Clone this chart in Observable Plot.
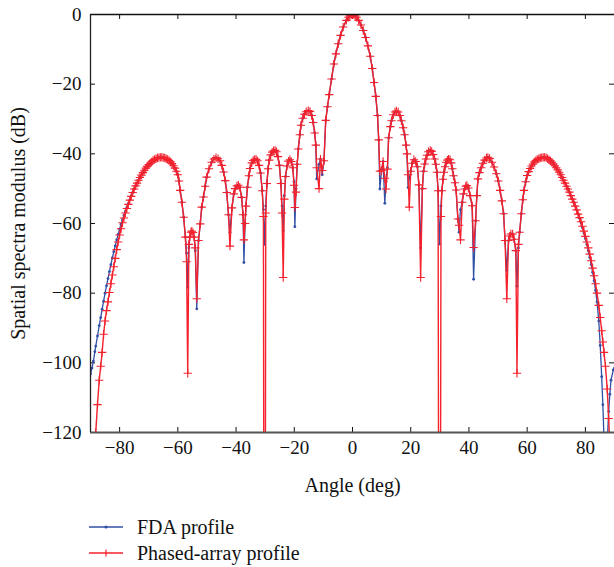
<!DOCTYPE html>
<html>
<head>
<meta charset="utf-8">
<script src="https://cdn.jsdelivr.net/npm/d3@7"></script>
<script src="https://cdn.jsdelivr.net/npm/@observablehq/plot@0.6"></script>
<style>
  html, body { margin: 0; padding: 0; background: #fff; }
  #wrap { width: 614px; font-family: "Liberation Serif", "DejaVu Serif", serif; }
  .legend { margin-top: 14px; padding-left: 89px; }
  .row { height: 26px; line-height: 26px; font-size: 20px; display: flex; align-items: center; color: #111; }
  .row svg { margin-right: 14px; }
</style>
</head>
<body>
<div id="wrap"></div>
<script>
// Angles (deg)
const angles = [
  -90, -89.5, -89, -88.5, -88.2, -87.6, -87, -86.5, -86, -85.5,
  -85, -84.5, -84, -83.5, -83, -82.5, -82, -81.5, -81, -80.5,
  -80, -79.5, -79, -78.5, -78, -77.5, -77, -76.5, -76, -75.5,
  -75, -74.5, -74, -73.5, -73, -72.5, -72, -71.5, -71, -70.5,
  -70, -69.5, -69, -68.5, -68, -67.5, -67, -66.5, -66, -65.5,
  -65, -64.5, -64, -63.5, -63, -62.5, -62, -61.5, -61, -60.5,
  -60, -59.6, -59.2, -58.6, -58, -57.4, -57, -56.6, -56.2, -55.9,
  -55.5, -55.2, -54.8, -54.4, -54, -53.5, -52.9, -52.3, -51.8, -51.2,
  -50.6, -50.1, -49.3, -48.4, -47.6, -46.9, -46.2, -45.5, -44.9, -44.3,
  -43.7, -43.2, -42.6, -42.1, -41.4, -40.8, -40.3, -39.7, -39.2, -38.7,
  -38.1, -37.6, -37.3, -36.9, -36.6, -36.1, -35.6, -35.2, -34.6, -34.1,
  -33.6, -33.1, -32.6, -32.1, -31.6, -31, -30.6, -30.2, -29.8, -29.4,
  -29, -28.6, -28.1, -27.6, -27.1, -26.6, -26.1, -25.6, -25.1, -24.6,
  -24.2, -23.8, -23.4, -23, -22.5, -22, -21.5, -21, -20.5, -20.1,
  -19.8, -19.4, -19, -18.6, -18.1, -17.7, -17.1, -16.5, -15.9, -15.2,
  -14.6, -14, -13.5, -13, -12.6, -12.3, -11.5, -11, -10.4, -9.8,
  -9.2, -8.6, -8, -7.2, -6.4, -5.7, -4.9, -4.1, -3.2, -2.1,
  -1.4, -0.9, -0.4, 0, 0.4, 0.9, 1.4, 2.1, 2.9, 3.7,
  4.5, 5.3, 6.1, 6.8, 7.4, 8, 8.6, 9, 9.4, 10,
  10.5, 11.1, 11.5, 12, 12.4, 13, 13.4, 14, 14.6, 15.1,
  15.7, 16.3, 16.8, 17.4, 17.9, 18.4, 18.7, 19.1, 19.5, 20,
  20.5, 21.1, 21.7, 22.3, 22.8, 23.4, 24, 24.4, 24.8, 25.2,
  25.6, 26.1, 26.7, 27.2, 27.7, 28.2, 28.6, 29, 29.4, 29.9,
  30.4, 30.7, 31.1, 31.4, 31.8, 32.2, 32.6, 33, 33.5, 33.9,
  34.3, 34.7, 35.2, 35.6, 36.2, 36.6, 37.1, 37.7, 38.1, 38.5,
  38.9, 39.3, 39.8, 40.4, 41.1, 41.6, 42.3, 42.7, 43.1, 43.6,
  44.2, 44.8, 45.4, 46, 46.5, 47.1, 47.9, 48.6, 49.4, 50.1,
  50.7, 51.3, 51.9, 52.4, 53, 53.6, 54, 54.4, 55, 55.5,
  56.1, 56.5, 57, 57.4, 58, 58.5, 58.9, 59.5, 60, 60.5,
  61, 61.5, 62, 62.5, 63, 63.5, 64, 64.5, 65, 65.5,
  66, 66.5, 67, 67.5, 68, 68.5, 69, 69.5, 70, 70.5,
  71, 71.5, 72, 72.5, 73, 73.5, 74, 74.5, 75, 75.5,
  76, 76.5, 77, 77.5, 78, 78.5, 79, 79.5, 80, 80.5,
  81, 81.5, 82, 82.5, 83, 83.5, 84, 84.6, 85.1, 85.6,
  86, 86.4, 86.9, 87.5, 88, 88.4, 88.8, 89.6, 90
];
// FDA profile (dB)
const fdaDb = [
  -103.2, -101.5, -99.5, -96.8, -95.2, -92.3, -89.3, -87, -84.6, -82.3,
  -80, -77.9, -75.8, -73.8, -71.8, -69.9, -68.1, -66.4, -64.7, -63.1,
  -61.6, -60.2, -58.9, -57.7, -56.5, -55.4, -54.3, -53.2, -52.1, -51.1,
  -50.1, -49.2, -48.4, -47.6, -46.8, -46.1, -45.4, -44.7, -44.1, -43.6,
  -43.1, -42.7, -42.3, -41.9, -41.6, -41.4, -41.2, -41.1, -41.0, -41.0,
  -41.1, -41.2, -41.4, -41.6, -41.9, -42.3, -42.8, -43.4, -44.1, -45.0,
  -46.0, -47.8, -50.5, -53.9, -58.2, -63.9, -68.5, -78.3, -67, -63.9,
  -62.5, -62.2, -62.6, -63.9, -67.8, -84.5, -64.9, -60.1, -55.3, -52.4,
  -49.3, -46.7, -44.3, -42.4, -41.5, -41.1, -41.4, -42.0, -43.3, -45.2,
  -47.7, -51.1, -57.5, -62.5, -55.5, -51.5, -50.0, -49.2, -49.0, -49.6,
  -52.5, -57.5, -71.2, -60, -55, -49.6, -46.3, -44.2, -42.6, -41.9,
  -41.6, -41.6, -42.0, -43.3, -45.5, -50.6, -56, -66, -55, -48.5,
  -44.3, -41.8, -40.3, -39.5, -39.1, -39.0, -39.4, -40.8, -43.3, -48.5,
  -55, -62.1, -52, -46.5, -43.5, -42.1, -41.7, -42.2, -44.0, -48,
  -60.9, -50, -43, -38.6, -34.5, -31.8, -29.8, -28.6, -27.9, -27.6,
  -27.8, -29.0, -31.0, -34.0, -37.5, -47.2, -43, -41.5, -46, -42,
  -30.4, -26.5, -23.0, -18.5, -14.2, -11.3, -8.4, -6.0, -3.6, -1.7,
  -0.8, -0.35, -0.05, 0, -0.05, -0.35, -0.8, -1.7, -3.0, -4.6,
  -6.6, -9.0, -12.0, -15.5, -19.5, -23.5, -29, -36, -50.1, -44.5,
  -42.2, -54.2, -48, -44, -35.4, -32.2, -30.5, -28.8, -28.0, -27.7,
  -28.0, -29.0, -30.5, -32.5, -34.5, -37.5, -40, -49.7, -47, -45,
  -42.7, -41.7, -42.2, -43.7, -48.9, -67, -50, -45, -42.9, -41.5,
  -40.4, -39.4, -39.0, -39.3, -40.2, -41.5, -43, -45.3, -50.6, -65.9,
  -55, -50.6, -47.3, -45.3, -43.7, -42.4, -41.8, -41.5, -41.7, -42.6,
  -44.3, -46.3, -48.3, -50.4, -58.7, -62.5, -56, -53.9, -51.5, -50.1,
  -49.3, -49.1, -49.8, -52.0, -54.9, -76, -59.2, -52, -47.2, -45.4,
  -44.0, -42.7, -41.8, -41.2, -41.0, -41.3, -42.4, -43.8, -45.7, -47.8,
  -50.5, -53.5, -57.2, -64.9, -73.5, -64.9, -63.6, -63.0, -63.0, -64.5,
  -67.8, -78, -67, -62.5, -57.2, -53.2, -50.5, -48.0, -46.2, -45.1,
  -44.2, -43.5, -42.9, -42.3, -41.9, -41.6, -41.4, -41.2, -41.1, -41.0,
  -41.0, -41.1, -41.4, -41.7, -42.0, -42.4, -42.9, -43.4, -44.0, -44.6,
  -45.3, -46.0, -46.8, -47.6, -48.4, -49.3, -50.1, -51.0, -52.0, -53.0,
  -53.9, -55.0, -56.1, -57.3, -58.5, -59.8, -61.2, -62.7, -64.3, -66.0,
  -67.8, -69.7, -71.8, -74.0, -76.4, -79.2, -82.5, -88, -95, -104,
  -112, -122, -140, -123, -114, -109, -105, -102, -101.5
];
// Phased-array profile (dB)
const phasedDb = [
  -175, -160, -140, -127, -120, -112, -105, -101, -97, -91.8,
  -88, -85, -82.5, -79.8, -77.3, -74.8, -72.4, -70, -67.5, -65.3,
  -63.3, -61.5, -59.8, -58.4, -57, -55.7, -54.5, -53.3, -52.2, -51.1,
  -50.1, -49.2, -48.4, -47.6, -46.8, -46.1, -45.4, -44.7, -44.1, -43.6,
  -43.1, -42.7, -42.3, -41.9, -41.6, -41.4, -41.2, -41.1, -41.0, -41.0,
  -41.1, -41.2, -41.4, -41.6, -41.9, -42.3, -42.8, -43.4, -44.1, -45.0,
  -46.0, -47.8, -50.5, -53.9, -58.2, -63.9, -71, -103, -66, -63.9,
  -62.5, -62.2, -62.6, -63.9, -67, -81.6, -64.9, -60.1, -55.3, -52.4,
  -49.3, -46.7, -44.3, -42.4, -41.5, -41.1, -41.4, -42.0, -43.3, -45.2,
  -47.7, -51.1, -57.5, -66.5, -55.5, -51.5, -50.0, -49.2, -49.0, -49.6,
  -52.5, -57.5, -64.7, -60, -55, -49.6, -46.3, -44.2, -42.6, -41.9,
  -41.6, -41.6, -42.0, -43.3, -45.5, -50.6, -58, -300, -57, -48.5,
  -44.3, -41.8, -40.3, -39.5, -39.1, -39.0, -39.4, -40.8, -43.3, -48.5,
  -57, -75.5, -53, -46.5, -43.5, -42.1, -41.7, -42.2, -44.0, -49,
  -55.4, -51, -43, -38.6, -34.5, -31.8, -29.8, -28.6, -27.9, -27.6,
  -27.8, -29.0, -31.0, -34.0, -37.5, -44, -50, -41.5, -44.8, -42,
  -30.4, -26.5, -23.0, -18.5, -14.2, -11.3, -8.4, -6.0, -3.6, -1.7,
  -0.8, -0.35, -0.05, 0, -0.05, -0.35, -0.8, -1.7, -3.0, -4.6,
  -6.6, -9.0, -12.0, -15.5, -19.5, -23.5, -29, -36, -45, -44.8,
  -42.2, -47, -50.1, -44.4, -35.4, -32.2, -30.5, -28.8, -28.0, -27.7,
  -28.0, -29.0, -30.5, -32.5, -34.5, -37.5, -40, -46, -55.3, -45,
  -42.7, -41.7, -42.2, -43.7, -48.9, -75.5, -50, -45, -42.9, -41.5,
  -40.4, -39.4, -39.0, -39.3, -40.2, -41.5, -43, -45.3, -50.6, -300,
  -58, -50.6, -47.3, -45.3, -43.7, -42.4, -41.8, -41.5, -41.7, -42.6,
  -44.3, -46.3, -48.3, -50.4, -58.7, -60.5, -64.7, -53.9, -51.5, -50.1,
  -49.3, -49.1, -49.8, -52.0, -54.9, -66.9, -59.2, -52, -47.2, -45.4,
  -44.0, -42.7, -41.8, -41.2, -41.0, -41.3, -42.4, -43.8, -45.7, -47.8,
  -50.5, -53.5, -57.2, -64.9, -81.6, -64.9, -63.6, -63.0, -63.0, -64.5,
  -67.8, -103, -66, -62.5, -57.2, -53.2, -50.5, -48.0, -46.2, -45.1,
  -44.2, -43.5, -42.9, -42.3, -41.9, -41.6, -41.4, -41.2, -41.1, -41.0,
  -41.0, -41.1, -41.4, -41.7, -42.0, -42.4, -42.9, -43.4, -44.0, -44.6,
  -45.3, -46.0, -46.8, -47.6, -48.4, -49.3, -50.1, -51.0, -52.0, -53.0,
  -53.9, -55.0, -56.1, -57.3, -58.3, -59.5, -60.8, -62.2, -63.7, -65.3,
  -67, -68.8, -70.7, -72.8, -75, -77.3, -80, -83.5, -87, -90.8,
  -94, -97, -101, -107.5, -116, -124, -131, -150, -170
];
const xTicks = [-80, -60, -40, -20, 0, 20, 40, 60, 80];
const yTicks = [0, -20, -40, -60, -80, -100, -120];
const xDomain = [-90, 90];
const yDomain = [-120, 0];
const seriesNames = ["FDA profile", "Phased-array profile"];
const seriesColors = ["#3150a6", "#f5222d"];

const fdaRows = angles.map((a, i) => ({angle: a, db: fdaDb[i]}));
const paRows = angles.map((a, i) => ({angle: a, db: phasedDb[i]}));

const W = 614, H = 500, mL = 90, mR = 0, mT = 14, mB = 68;
const innerW = W - mL - mR, innerH = H - mT - mB;
const FONT = '"Liberation Serif", "DejaVu Serif", serif';
const fmt = d => d < 0 ? "\u2212" + Math.abs(d) : String(d);

const chart = Plot.plot({
  width: W, height: H,
  marginLeft: mL, marginRight: mR, marginTop: mT, marginBottom: mB,
  style: {fontFamily: FONT, fontSize: "19px", color: "#111", background: "#fff"},
  x: {domain: xDomain},
  y: {domain: yDomain},
  marks: [
    Plot.axisX(xTicks, {tickSize: 0, tickPadding: 8, fontSize: 19, label: null, tickFormat: fmt}),
    Plot.axisY(yTicks, {tickSize: 0, tickPadding: 9, fontSize: 19, label: null, tickFormat: fmt}),
    // inward tick marks
    Plot.tickX(xTicks, {x: d => d, insetTop: innerH - 5, stroke: "#111", strokeWidth: 1}),
    Plot.tickX(xTicks, {x: d => d, insetBottom: innerH - 5, stroke: "#111", strokeWidth: 1}),
    Plot.tickY(yTicks, {y: d => d, insetRight: innerW - 5, stroke: "#111", strokeWidth: 1}),
    Plot.tickY(yTicks, {y: d => d, insetLeft: innerW - 5, stroke: "#111", strokeWidth: 1}),
    // series
    Plot.line(fdaRows, {x: "angle", y: "db", stroke: seriesColors[0], strokeWidth: 1.3, clip: true}),
    Plot.dot(fdaRows, {x: "angle", y: "db", r: 1.4, fill: seriesColors[0], stroke: "none", clip: true}),
    Plot.line(paRows, {x: "angle", y: "db", stroke: seriesColors[1], strokeWidth: 1.4, clip: true}),
    Plot.dot(paRows, {x: "angle", y: "db", symbol: "plus", r: 2.8, stroke: seriesColors[1], strokeWidth: 1.1, clip: true}),
    // frame lines
    Plot.ruleY([yDomain[1]], {stroke: "#111", strokeWidth: 1.4}),
    Plot.ruleY([yDomain[0]], {stroke: "#555", strokeWidth: 2}),
    Plot.ruleX([xDomain[0]], {stroke: "#222", strokeWidth: 1.3}),
    // axis labels
    Plot.text(["Angle (deg)"], {frameAnchor: "bottom", dy: 53, text: d => d, fontSize: 20, fill: "#111", lineAnchor: "middle"}),
    Plot.text(["Spatial spectra modulus (dB)"], {frameAnchor: "left", dx: -72, rotate: -90, text: d => d, fontSize: 20, fill: "#111", lineAnchor: "middle", textAnchor: "middle"})
  ]
});

const wrap = document.getElementById("wrap");
wrap.appendChild(chart);

const legend = document.createElement("div");
legend.className = "legend";
seriesNames.forEach((name, i) => {
  const row = document.createElement("div");
  row.className = "row";
  const ns = "http://www.w3.org/2000/svg";
  const s = document.createElementNS(ns, "svg");
  s.setAttribute("width", 34); s.setAttribute("height", 12);
  const ln = document.createElementNS(ns, "line");
  ln.setAttribute("x1", 0); ln.setAttribute("x2", 34); ln.setAttribute("y1", 6); ln.setAttribute("y2", 6);
  ln.setAttribute("stroke", seriesColors[i]); ln.setAttribute("stroke-width", i === 0 ? 1.6 : 1.5);
  s.appendChild(ln);
  if (i === 0) {
    const c = document.createElementNS(ns, "circle");
    c.setAttribute("cx", 17); c.setAttribute("cy", 6); c.setAttribute("r", 1.6);
    c.setAttribute("fill", seriesColors[i]);
    s.appendChild(c);
  } else {
    const v = document.createElementNS(ns, "line");
    v.setAttribute("x1", 17); v.setAttribute("x2", 17); v.setAttribute("y1", 2.5); v.setAttribute("y2", 9.5);
    v.setAttribute("stroke", seriesColors[i]); v.setAttribute("stroke-width", 1.2);
    s.appendChild(v);
  }
  row.appendChild(s);
  const t = document.createElement("span");
  t.textContent = name;
  row.appendChild(t);
  legend.appendChild(row);
});
wrap.appendChild(legend);
</script>
</body>
</html>
